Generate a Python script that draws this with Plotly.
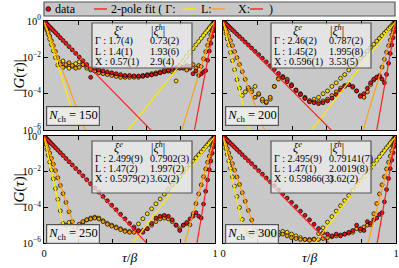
import plotly.graph_objects as go
from plotly.subplots import make_subplots

# imaginary-time grid (fraction of beta)
tau = [0, 0.0007, 0.0027, 0.0062, 0.0109, 0.0170, 0.0245, 0.0332, 0.0432, 0.0545,
       0.0670, 0.0807, 0.0955, 0.1114, 0.1284, 0.1464, 0.1654, 0.1853, 0.2061, 0.2277,
       0.2500, 0.2730, 0.2966, 0.3208, 0.3455, 0.3706, 0.3960, 0.4218, 0.4477, 0.4738,
       0.5000, 0.5262, 0.5523, 0.5782, 0.6040, 0.6294, 0.6545, 0.6792, 0.7034, 0.7270,
       0.7500, 0.7723, 0.7939, 0.8147, 0.8346, 0.8536, 0.8716, 0.8886, 0.9045, 0.9193,
       0.9330, 0.9455, 0.9568, 0.9668, 0.9755, 0.9830, 0.9891, 0.9938, 0.9973, 0.9993, 1.0]

# -log10|G(tau)| (decades below 1)
m150_Gamma = [0, .02, .08, .19, .33, .51, .73, 1.0, 1.3, 1.64, 2.01, 2.42, 2.3, 2.2, 2.45, 2.6, 2.5, 2.35, 2.25, 2.4,
              2.6, 2.7, 2.75, 2.8, 2.85, 2.9, 2.95, 3.0, 3.05, 3.05, 3.05, 3.05, 3.05, 3.0, 2.95, 2.9, 2.85, 2.8, 2.7, 2.75,
              2.8, 3.3, 2.43, 2.19, 1.95, 1.73, 1.52, 1.31, 1.13, .95, .79, .64, .51, .39, .29, .2, .13, .07, .03, .01, 0]
m150_L = [0, .02, .07, .15, .27, .43, .61, .83, 1.08, 1.36, 1.68, 2.02, 2.39, 2.55, 2.4, 2.3, 2.45, 2.6, 2.55, 2.4,
          2.5, 2.65, 2.75, 2.85, 2.9, 2.95, 3.0, 3.05, 3.1, 3.1, 3.1, 3.1, 3.1, 3.05, 3.0, 2.95, 2.9, 2.85, 2.8, 2.75,
          2.7, 2.6, 2.5, 2.6, 2.7, 2.5, 2.4, 2.6, 2.45, 2.5, 2.08, 1.69, 1.34, 1.03, .76, .53, .34, .19, .08, .02, 0]
m150_X = [0, .01, .03, .06, .1, .16, .24, .32, .41, .52, .64, .77, .92, 1.07, 1.23, 1.41, 1.59, 1.78, 1.98, 2.19,
          2.4, 3.1, 2.6, 2.7, 2.75, 2.8, 2.85, 2.9, 2.95, 3.0, 3.0, 3.02, 3.03, 3.02, 3.0, 2.97, 2.92, 2.85, 2.78, 2.7,
          2.62, 2.58, 2.6, 2.55, 2.45, 2.6, 2.9, 2.75, 3.0, 2.9, 2.8, 2.73, 2.16, 1.66, 1.23, .85, .55, .31, .14, .04, 0]

m200_Gamma = [0, .03, .11, .25, .44, .68, .98, 1.33, 1.73, 2.18, 2.68, 3.23, 3.7, 4.1, 3.9, 3.75, 3.8, 3.6, 4.05, 4.4,
              4.5, 4.3, 3.6, 3.15, 3.05, 3.2, 3.5, 3.8, 4.0, 4.2, 4.4, 4.3, 4.2, 4.0, 3.85, 3.6, 3.4, 3.15, 2.95, 2.7,
              2.5, 2.28, 2.06, 1.85, 1.65, 1.46, 1.28, 1.11, .95, .81, .67, .55, .43, .33, .25, .17, .11, .06, .03, .01, 0]
m200_L = [0, .02, .07, .15, .27, .43, .61, .83, 1.08, 1.36, 1.68, 2.02, 2.39, 2.79, 3.21, 3.66, 3.9, 4.2, 4.0, 4.3,
          4.45, 4.2, 3.6, 3.2, 3.1, 3.25, 3.55, 3.85, 4.05, 4.25, 4.4, 4.45, 4.45, 4.4, 4.3, 4.1, 3.9, 3.7, 3.55, 3.5,
          3.65, 3.85, 4.1, 4.2, 3.9, 3.5, 3.25, 3.1, 3.0, 2.54, 2.11, 1.72, 1.36, 1.05, .77, .54, .34, .2, .09, .02, 0]
m200_X = [0, .006, .025, .056, .098, .153, .22, .3, .39, .49, .6, .73, .86, 1.0, 1.16, 1.32, 1.49, 1.67, 1.85, 2.05,
          2.25, 2.46, 2.67, 2.89, 3.11, 3.34, 3.56, 3.8, 4.03, 4.26, 4.45, 4.5, 4.55, 4.5, 4.4, 4.25, 4.05, 3.8, 3.6, 3.5,
          3.6, 3.85, 4.15, 4.0, 3.7, 3.4, 3.2, 3.1, 3.05, 3.2, 3.4, 2.94, 2.33, 1.79, 1.32, .92, .59, .33, .15, .04, 0]

m250_Gamma = [0, .03, .12, .27, .48, .75, 1.08, 1.46, 1.9, 2.4, 2.95, 3.55, 4.2, 4.9, 5.0, 4.85, 5.05, 5.2, 5.0, 4.85,
              4.7, 4.6, 4.55, 4.6, 4.75, 4.9, 5.0, 5.1, 5.2, 5.3, 5.35, 5.1, 4.93, 4.64, 4.36, 4.08, 3.8, 3.53, 3.26, 3.0,
              2.75, 2.5, 2.27, 2.04, 1.82, 1.61, 1.41, 1.22, 1.05, .89, .74, .6, .48, .37, .27, .19, .12, .07, .03, .01, 0]
m250_L = [0, .02, .08, .18, .32, .49, .71, .96, 1.25, 1.58, 1.94, 2.34, 2.77, 3.23, 3.72, 4.25, 4.8, 5.1, 4.95, 4.8,
          4.7, 4.65, 4.6, 4.65, 4.8, 4.95, 5.05, 5.15, 5.25, 5.35, 5.4, 5.4, 5.35, 5.3, 5.2, 5.0, 4.8, 4.65, 4.6, 4.65,
          4.8, 5.0, 5.2, 5.0, 4.9, 4.98, 4.36, 3.79, 3.25, 2.74, 2.28, 1.85, 1.47, 1.13, .83, .58, .37, .21, .09, .02, 0]
m250_X = [0, .007, .026, .061, .107, .167, .24, .325, .423, .534, .657, .79, .936, 1.09, 1.26, 1.44, 1.62, 1.82, 2.02, 2.23,
          2.45, 2.68, 2.91, 3.14, 3.39, 3.63, 3.88, 4.13, 4.39, 4.64, 4.9, 5.16, 5.3, 5.4, 5.2, 4.9, 4.6, 4.5, 4.45, 4.5,
          4.7, 5.0, 5.3, 5.0, 4.85, 4.65, 4.5, 4.3, 4.5, 4.6, 3.82, 3.1, 2.46, 1.89, 1.4, .97, .62, .35, .15, .04, 0]

m300_Gamma = [0, .03, .11, .26, .46, .71, 1.03, 1.39, 1.81, 2.29, 2.81, 3.39, 4.01, 4.68, 5.39, 5.5, 5.6, 5.4, 5.3, 5.4,
              5.5, 5.6, 5.5, 5.4, 5.35, 5.4, 5.5, 5.6, 5.7, 5.8, 5.8, 5.78, 5.47, 5.15, 4.83, 4.52, 4.21, 3.91, 3.62, 3.33,
              3.05, 2.78, 2.51, 2.26, 2.01, 1.79, 1.57, 1.36, 1.17, .98, .82, .66, .53, .4, .3, .21, .13, .08, .03, .01, 0]
m300_L = [0, .02, .08, .18, .31, .48, .7, .95, 1.23, 1.55, 1.91, 2.3, 2.72, 3.18, 3.66, 4.17, 4.71, 5.28, 5.4, 5.5,
          5.4, 5.5, 5.6, 5.55, 5.5, 5.6, 5.7, 5.75, 5.8, 5.8, 5.85, 5.8, 5.8, 5.75, 5.7, 5.65, 5.6, 5.55, 5.5, 5.45,
          5.4, 5.2, 5.3, 5.1, 5.0, 4.98, 4.36, 3.79, 3.25, 2.74, 2.28, 1.85, 1.47, 1.13, .83, .58, .37, .21, .09, .02, 0]
m300_X = [0, .007, .025, .058, .102, .16, .23, .31, .41, .51, .63, .76, .9, 1.05, 1.21, 1.38, 1.55, 1.74, 1.94, 2.14,
          2.35, 2.57, 2.79, 3.02, 3.25, 3.48, 3.72, 3.96, 4.21, 4.45, 4.7, 4.95, 5.19, 5.43, 5.5, 5.6, 5.5, 5.6, 5.5, 5.4,
          5.3, 5.0, 5.2, 5.3, 4.8, 4.9, 4.7, 4.6, 4.4, 4.3, 3.69, 3.0, 2.38, 1.83, 1.35, .94, .6, .34, .15, .04, 0]

# 2-pole fit: decay rates in decades per unit tau/beta [from tau=0, towards tau=beta]
fit150 = {"Γ": [30, 11.8], "L": [25, 31], "X": [9.6, 50]}
fit200 = {"Γ": [40, 12.3], "L": [25, 31.5], "X": [9.6, 54]}
fit250 = {"Γ": [45, 12.5], "L": [28.5, 34], "X": [10, 57]}
fit300 = {"Γ": [45, 12.8], "L": [28.5, 37], "X": [9.8, 55]}

N_ch = [150, 200, 250, 300]
xi_e = [["1.7(4)", "1.4(1)", "0.57(1)"],
        ["2.46(2)", "1.45(2)", "0.596(1)"],
        ["2.499(9)", "1.47(2)", "0.5979(2)"],
        ["2.495(9)", "1.47(1)", "0.59866(3)"]]
xi_h = [["0.73(2)", "1.93(6)", "2.9(4)"],
        ["0.787(2)", "1.995(8)", "3.53(5)"],
        ["0.7902(3)", "1.997(2)", "3.62(2)"],
        ["0.79141(7)", "2.0019(8)", "3.62(2)"]]
kpts = ["Γ", "L", "X"]
data = [[m150_Gamma, m150_L, m150_X], [m200_Gamma, m200_L, m200_X],
        [m250_Gamma, m250_L, m250_X], [m300_Gamma, m300_L, m300_X]]
fits = [fit150, fit200, fit250, fit300]

mcol = ["#ffe000", "#ff9c00", "#e8101a"]
lcol = ["#ffe800", "#ffa010", "#ff2020"]
FONT = "Liberation Serif"
BG = "#c8c8c8"

fig = make_subplots(rows=2, cols=2)
rc = [(1, 1), (1, 2), (2, 1), (2, 2)]
for p in range(4):
    r, c = rc[p]
    for k in range(3):
        fig.add_trace(go.Scatter(x=tau, y=[10 ** (-v) for v in data[p][k]], mode="markers",
                                 marker=dict(size=3.9, color=mcol[k], line=dict(color="black", width=0.7)),
                                 showlegend=False), row=r, col=c)
    for k in range(3):
        a, b = fits[p][kpts[k]]
        fig.add_trace(go.Scatter(x=[0, 1], y=[1, 10 ** (-a)], mode="lines",
                                 line=dict(color=lcol[k], width=1.2), showlegend=False), row=r, col=c)
        fig.add_trace(go.Scatter(x=[0, 1], y=[10 ** (-b), 1], mode="lines",
                                 line=dict(color=lcol[k], width=1.2), showlegend=False), row=r, col=c)

W, H = 399, 268
L, R, T, B = 44, 3, 21, 25
PW, PH = W - L - R, H - T - B


def P(px, py):
    """page pixel -> paper coords"""
    return (px - L) / PW, (H - B - py) / PH


xdom = [[0, P(215, 0)[0]], [P(223, 0)[0], 1]]
ydom = [[P(0, 130)[1], 1], [0, P(0, 136)[1]]]
axc = dict(showline=True, linecolor="black", linewidth=1, mirror="ticks", ticks="inside",
           ticklen=4, tickcolor="black", showgrid=False, zeroline=False, automargin=False,
           tickfont=dict(family=FONT, size=10.5, color="black"))
ylab = ["10<sup>0</sup>", "10<sup>−2</sup>", "10<sup>−4</sup>", "10<sup>−6</sup>"]
for p in range(4):
    r, c = rc[p]
    n = "" if p == 0 else str(p + 1)
    fig.layout["xaxis" + n].update(domain=xdom[c - 1], range=[0, 1],
                                   tickvals=[0, 1], ticktext=["0", "1"],
                                   minor=dict(tickvals=[.2, .4, .6, .8], ticks="inside", ticklen=4,
                                              tickcolor="black", showgrid=False),
                                   showticklabels=(r == 2), **axc)
    fig.layout["yaxis" + n].update(domain=ydom[r - 1], type="log", range=[-6, 0],
                                   tickvals=[1, 1e-2, 1e-4, 1e-6], ticktext=ylab,
                                   showticklabels=(c == 1), **axc)

shapes = []
ann = []
# tables of correlation lengths + N_ch boxes
for p in range(4):
    r, c = rc[p]
    dx = 0 if c == 1 else 179
    if r == 1:
        bx, hy, rows_y, nbox = (23, 68), 31, [41.5, 52, 62], 116
    else:
        bx, hy, rows_y, nbox = (141, 193), 147, [158.5, 169, 179.5], 234
    x0, y0 = P(92 + dx, bx[0])
    x1, y1 = P(192 + dx, bx[1])
    shapes.append(dict(type="rect", xref="paper", yref="paper", x0=x0, x1=x1, y0=y1, y1=y0,
                       fillcolor="rgba(238,238,238,0.75)", line=dict(color="#555555", width=1.2)))
    hx1, hyy = P(118 + dx, hy)
    hx2, _ = P(158 + dx, hy)
    hfont = dict(family=FONT, size=12, color="black")
    ann.append(dict(x=hx1, y=hyy, text="<i>ξ</i><sup><i>e</i></sup>", xanchor="center", font=hfont))
    ann.append(dict(x=hx2, y=hyy, text="|<i>ξ</i><sup><i>h</i></sup>|", xanchor="center", font=hfont))
    for k in range(3):
        ax_, ay_ = P(93 + dx, rows_y[k])
        bx_, _ = P(148 + dx, rows_y[k])
        ann.append(dict(x=ax_, y=ay_, text=kpts[k] + " : " + xi_e[p][k], xanchor="left"))
        ann.append(dict(x=bx_, y=ay_, text=xi_h[p][k], xanchor="left"))
    nx, ny = P(73 + dx, nbox)
    ann.append(dict(x=nx, y=ny, text="<i>N</i><sub>ch</sub> = %d" % N_ch[p], xanchor="center",
                    font=dict(family=FONT, size=12.5, color="black"), bgcolor="rgba(240,240,240,0.85)",
                    bordercolor="#555555", borderwidth=1.2, borderpad=1))

# axis titles
for yy in (75.5, 189.5):
    x_, y_ = P(19, yy)
    ann.append(dict(x=x_, y=y_, text="|<i>G</i>(<i>τ</i>)|", textangle=-90, xanchor="center",
                    font=dict(family=FONT, size=15, color="black")))
for xx in (129.5, 309.5):
    x_, y_ = P(xx, 257)
    ann.append(dict(x=x_, y=y_, text="<i>τ</i>/<i>β</i>", xanchor="center",
                    font=dict(family=FONT, size=13.5, color="black")))

# legend (built as a box with handles and labels)
lx0, ly0 = P(44, 2)
lx1, ly1 = P(395, 16)
shapes.append(dict(type="rect", xref="paper", yref="paper", x0=lx0, x1=lx1, y0=ly1, y1=ly0,
                   fillcolor=BG, line=dict(color="#555555", width=1.2)))
cy = 9
cx0, cy0 = P(46, cy - 2.3)
cx1, cy1 = P(50.6, cy + 2.3)
shapes.append(dict(type="circle", xref="paper", yref="paper", x0=cx0, x1=cx1, y0=cy1, y1=cy0,
                   fillcolor=mcol[2], line=dict(color="black", width=0.8)))
leg_lines = [(94, 107, lcol[2]), (183, 196, lcol[0]), (212, 225, lcol[1]), (250, 263, lcol[2])]
for xa, xb, col in leg_lines:
    a0, yy = P(xa, cy)
    a1, _ = P(xb, cy)
    shapes.append(dict(type="line", xref="paper", yref="paper", x0=a0, x1=a1, y0=yy, y1=yy,
                       line=dict(color=col, width=1.4)))
leg_text = [(53, "data"), (109, "2-pole fit ( Γ:"), (199, "L:"), (236, "X:"), (267, ")")]
for xa, t in leg_text:
    a0, yy = P(xa, cy)
    ann.append(dict(x=a0, y=yy, text=t, xanchor="left", font=dict(family=FONT, size=12, color="black")))

for a in ann:
    a.setdefault("xref", "paper")
    a.setdefault("yref", "paper")
    a.setdefault("yanchor", "middle")
    a.setdefault("showarrow", False)
    a.setdefault("font", dict(family=FONT, size=10, color="black"))

fig.update_layout(width=W, height=H, margin=dict(l=L, r=R, t=T, b=B),
                  paper_bgcolor="white", plot_bgcolor=BG, showlegend=False,
                  shapes=shapes, annotations=ann)
# remove the default 8px page margin so the figure fills the window exactly
fig.write_html("out.html", config={"displayModeBar": False, "staticPlot": True},
               post_script="document.body.style.margin='0';document.body.style.overflow='hidden';")
